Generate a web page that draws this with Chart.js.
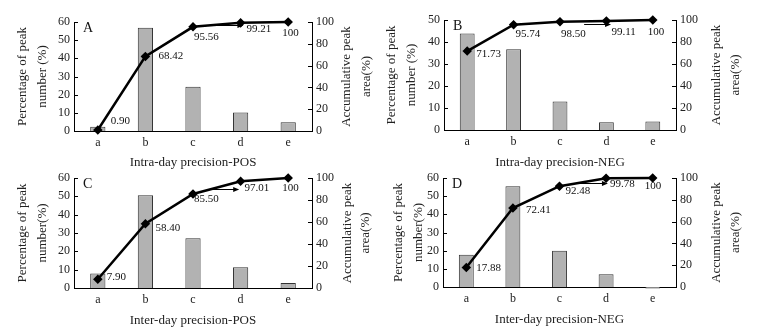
<!DOCTYPE html>
<html lang="en">
<head>
<meta charset="UTF-8">
<title>Peak precision</title>
<script src="https://cdn.jsdelivr.net/npm/chart.js@4.4.0/dist/chart.umd.min.js"></script>
<style>
    body { margin: 0; background: #fff; }
    #wrap { position: relative; width: 758px; height: 330px; overflow: hidden; }
    canvas { position: absolute; }
</style>
</head>
<body>
<div id="wrap">
    <canvas id="chartA" width="379" height="175" style="left:0;top:0"></canvas>
    <canvas id="chartB" width="379" height="175" style="left:379px;top:0"></canvas>
    <canvas id="chartC" width="379" height="165" style="left:0;top:165px"></canvas>
    <canvas id="chartD" width="379" height="165" style="left:379px;top:165px"></canvas>
</div>
<script>
    // data
    const categories = ['a', 'b', 'c', 'd', 'e'];

    const peakA = [2.4, 56.9, 24.3, 10.2, 4.8];
    const accA = [0.90, 68.42, 95.56, 99.21, 100];
    const peakB = [43.9, 36.7, 12.9, 3.5, 3.9];
    const accB = [71.73, 95.74, 98.50, 99.11, 100];
    const peakC = [7.9, 50.6, 27.2, 11.3, 2.7];
    const accC = [7.90, 58.40, 85.50, 97.01, 100];
    const peakD = [17.8, 55.4, 20.0, 7.0, -0.8];
    const accD = [17.88, 72.41, 92.48, 99.78, 100];

    const leftMax = [60, 50, 60, 60];
    const rightTicksMax = 100;

    const xTitles = ['Intra-day precision-POS', 'Intra-day precision-NEG', 'Inter-day precision-POS', 'Inter-day precision-NEG'];
    const leftTitles = [
        ['Percentage of peak', 'number (%)'],
        ['Percentage of peak', 'number (%)'],
        ['Percentage of peak', 'number(%)'],
        ['Percentage of peak', 'number(%)']
    ];
    const rightTitle = ['Accumulative peak', 'area(%)'];
    const letters = ['A', 'B', 'C', 'D'];

    const FONT = '"Liberation Serif", "Times New Roman", serif';
    Chart.defaults.font.family = FONT;
    Chart.defaults.color = '#222';

    // layout of each panel (plot box inside its canvas, label nudges)
    const panels = [
        { id: 'chartA', peak: peakA, acc: accA, h: 175, area: { l: 74, r: 312, t: 22, b: 131 }, yPad: 13, xPad: 5, rOff: [35, 55],
          lab: [[13, -9], [13, 0], [1, 10], [6, 6], [-6, 11]], arrow: [2.46, 3.06, 97.7] },
        { id: 'chartB', peak: peakB, acc: accB, h: 175, area: { l: 65, r: 297, t: 20, b: 130 }, yPad: 3, xPad: 5, rOff: [41, 60],
          lab: [[9, 3], [2, 9], [1, 12], [5, 11], [-5, 12]], arrow: [2.52, 3.1, 96.4] },
        { id: 'chartC', peak: peakC, acc: accC, h: 165, area: { l: 74, r: 312, t: 13, b: 123 }, yPad: 13, xPad: 2, rOff: [36, 54],
          lab: [[9, -2], [10, 4], [1, 5], [4, 7], [-6, 10]], arrow: [2.42, 2.97, 90] },
        { id: 'chartD', peak: peakD, acc: accD, h: 165, area: { l: 64, r: 297, t: 13, b: 122 }, yPad: 10, xPad: 3, rOff: [41, 60],
          lab: [[10, 1], [13, 2], [6, 5], [4, 6], [-8, 8]], arrow: [2.42, 3.04, 95.4] }
    ];

    const extras = {
        id: 'extras',
        afterDatasetsDraw(chart, args, opts) {
            const ctx = chart.ctx;
            const a = chart.chartArea;
            const x = chart.scales.x, y = chart.scales.y, y1 = chart.scales.y1;
            ctx.save();
            ctx.strokeStyle = '#000';
            ctx.lineWidth = 1;
            // inward ticks
            y.ticks.forEach((t, i) => {
                const py = Math.round(y.getPixelForTick(i)) + 0.5;
                ctx.beginPath(); ctx.moveTo(a.left, py); ctx.lineTo(a.left + 4, py); ctx.stroke();
            });
            y1.ticks.forEach((t, i) => {
                const py = Math.round(y1.getPixelForTick(i)) + 0.5;
                ctx.beginPath(); ctx.moveTo(a.right - 4, py); ctx.lineTo(a.right, py); ctx.stroke();
            });

            ctx.fillStyle = '#111';
            ctx.textBaseline = 'middle';
            ctx.textAlign = 'left';
            ctx.font = '14px ' + FONT;
            ctx.fillText(opts.letter, a.left + 9, a.top + 6);

            // value labels
            ctx.font = '11px ' + FONT;
            const meta = chart.getDatasetMeta(1);
            meta.data.forEach((pt, i) => {
                const v = opts.values[i];
                const txt = v === 100 ? '100' : v.toFixed(2);
                ctx.fillText(txt, pt.x + opts.lab[i][0], pt.y + opts.lab[i][1]);
            });

            // small arrow pointing at d
            const ax0 = x.getPixelForValue(opts.arrow[0]);
            const ax1 = x.getPixelForValue(opts.arrow[1]);
            const ay = Math.round(y1.getPixelForValue(opts.arrow[2])) + 0.5;
            ctx.beginPath(); ctx.moveTo(ax0, ay); ctx.lineTo(ax1 - 4, ay); ctx.stroke();
            ctx.fillStyle = '#000';
            ctx.beginPath(); ctx.moveTo(ax1, ay); ctx.lineTo(ax1 - 6, ay - 2.5); ctx.lineTo(ax1 - 6, ay + 2.5); ctx.closePath(); ctx.fill();

            // right axis title, read bottom to top
            ctx.fillStyle = '#222';
            ctx.font = '13px ' + FONT;
            ctx.textAlign = 'center';
            const cy = (a.top + a.bottom) / 2;
            opts.rightTitle.forEach((line, i) => {
                ctx.save();
                ctx.translate(a.right + opts.rOff[i], cy);
                ctx.rotate(-Math.PI / 2);
                ctx.fillText(line, 0, 0);
                ctx.restore();
            });
            ctx.restore();
        }
    };

    panels.forEach((p, k) => {
        const tickFont = { size: 12 };
        new Chart(p.id, {
            type: 'bar',
            data: {
                labels: categories,
                datasets: [{
                    type: 'bar',
                    data: p.peak,
                    yAxisID: 'y',
                    backgroundColor: '#b2b2b2',
                    borderColor: '#333',
                    borderWidth: 1,
                    barPercentage: 0.32,
                    categoryPercentage: 1,
                    clip: 4,
                    order: 2
                }, {
                    type: 'line',
                    data: p.acc,
                    yAxisID: 'y1',
                    borderColor: '#000',
                    borderWidth: 2.5,
                    pointStyle: 'rectRot',
                    pointRadius: 3,
                    pointBackgroundColor: '#000',
                    pointBorderColor: '#000',
                    clip: 8,
                    order: 1
                }]
            },
            options: {
                responsive: false,
                animation: false,
                layout: { padding: { top: p.area.t, left: 0, right: 0, bottom: 0 } },
                plugins: {
                    legend: { display: false },
                    tooltip: { enabled: false },
                    extras: { letter: letters[k], values: p.acc, lab: p.lab, arrow: p.arrow, rOff: p.rOff, rightTitle: rightTitle }
                },
                scales: {
                    x: {
                        grid: { display: false, drawTicks: false },
                        border: { display: true, color: '#000', width: 1 },
                        ticks: { font: tickFont, padding: 5, color: '#222' },
                        title: { display: true, text: xTitles[k], font: { size: 13 }, color: '#222', padding: { top: 0, bottom: p.xPad } },
                        afterFit(s) { s.height = p.h - p.area.b; }
                    },
                    y: {
                        position: 'left',
                        min: 0,
                        max: leftMax[k],
                        ticks: { stepSize: 10, font: tickFont, padding: 4, color: '#222' },
                        grid: { display: false, drawTicks: false },
                        border: { display: true, color: '#000', width: 1 },
                        title: { display: true, text: leftTitles[k], font: { size: 13, lineHeight: 1.5 }, color: '#222', padding: { top: p.yPad, bottom: 0 } },
                        afterFit(s) { s.width = p.area.l; }
                    },
                    y1: {
                        position: 'right',
                        min: 0,
                        max: rightTicksMax,
                        ticks: { stepSize: 20, font: tickFont, padding: 4, color: '#222' },
                        grid: { display: false, drawTicks: false },
                        border: { display: true, color: '#000', width: 1 },
                        afterFit(s) { s.width = 379 - p.area.r; }
                    }
                }
            },
            plugins: [extras]
        });
    });
</script>
</body>
</html>
